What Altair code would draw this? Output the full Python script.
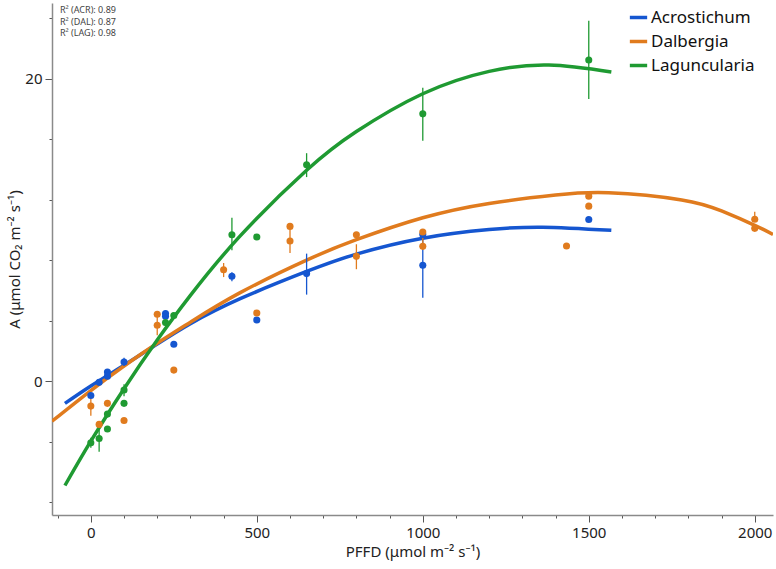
import altair as alt
import pandas as pd

FONT = "Noto Sans"

species = ["Acrostichum", "Dalbergia", "Laguncularia"]
codes = ["ACR", "DAL", "LAG"]
r2 = [0.89, 0.87, 0.98]
colors = ["#1556D0", "#E07B1E", "#1F9A32"]

# Net assimilation measured at each light level
acr_x = [0, 25, 50, 50, 100, 225, 225, 250, 425, 500, 650, 1000, 1000, 1500]
acr_y = [-0.95, -0.08, 0.61, 0.33, 1.27, 4.47, 4.29, 2.44, 6.93, 4.04, 7.11, 9.7, 7.66, 10.69]
dal_x = [0, 25, 50, 100, 200, 200, 250, 400, 500, 600, 600, 800, 800, 1000, 1000, 1433, 1500, 1500, 2000, 2000]
dal_y = [-1.65, -2.86, -1.47, -2.6, 4.42, 3.7, 0.73, 7.37, 4.5, 10.23, 9.26, 9.68, 8.25, 9.86, 8.91, 8.93, 12.23, 11.57, 10.7, 10.1]
lag_x = [0, 25, 50, 50, 100, 100, 225, 250, 425, 500, 650, 1000, 1500]
lag_y = [-4.07, -3.79, -2.18, -3.17, -0.59, -1.47, 3.87, 4.34, 9.68, 9.53, 14.3, 17.67, 21.23]

# Error bars: light level, lower and upper bound
acr_err_x = [100, 225, 425, 650, 1000]
acr_err_lo = [1.0, 4.3, 6.6, 5.72, 5.52]
acr_err_hi = [1.55, 4.65, 7.2, 8.43, 9.8]
dal_err_x = [0, 200, 400, 600, 800, 1000, 2000]
dal_err_lo = [-2.29, 3.04, 6.88, 8.47, 7.4, 8.91, 10.7]
dal_err_hi = [-1.0, 4.36, 7.81, 10.05, 9.05, 9.86, 11.2]
lag_err_x = [0, 25, 100, 425, 650, 1000, 1500]
lag_err_lo = [-4.4, -4.67, -1.0, 8.65, 13.49, 15.9, 18.66]
lag_err_hi = [-3.75, -2.9, -0.2, 10.8, 15.07, 19.39, 23.83]

# Fitted light-response curves
acr_fit_x = [-78, 0, 100, 200, 300, 450, 650, 800, 1000, 1200, 1360, 1568]
acr_fit_y = [-1.47, -0.32, 1.05, 2.45, 3.8, 5.45, 7.25, 8.4, 9.45, 10.02, 10.18, 9.97]
dal_fit_x = [-117, 0, 100, 200, 300, 450, 650, 800, 1000, 1200, 1400, 1560, 1780, 1900, 2000, 2055]
dal_fit_y = [-2.65, -0.62, 1.0, 2.5, 3.9, 5.85, 8.0, 9.35, 10.8, 11.75, 12.3, 12.45, 11.98, 11.25, 10.3, 9.7]
lag_fit_x = [-78, 0, 100, 200, 300, 450, 650, 800, 1000, 1200, 1380, 1568]
lag_fit_y = [-6.9, -3.97, -0.5, 2.72, 5.67, 9.6, 13.94, 16.5, 19.0, 20.48, 20.9, 20.44]


def long(name, xs, ys):
    return pd.DataFrame({"species": name, "x": xs, "y": ys})


points = pd.concat([long(species[0], acr_x, acr_y),
                    long(species[1], dal_x, dal_y),
                    long(species[2], lag_x, lag_y)])
fits = pd.concat([long(species[0], acr_fit_x, acr_fit_y),
                  long(species[1], dal_fit_x, dal_fit_y),
                  long(species[2], lag_fit_x, lag_fit_y)])
errs = pd.concat([
    pd.DataFrame({"species": species[0], "x": acr_err_x, "lo": acr_err_lo, "hi": acr_err_hi}),
    pd.DataFrame({"species": species[1], "x": dal_err_x, "lo": dal_err_lo, "hi": dal_err_hi}),
    pd.DataFrame({"species": species[2], "x": lag_err_x, "lo": lag_err_lo, "hi": lag_err_hi}),
])

r2_text = "\n".join(f"R\u00b2 ({c}): {v:.2f}" for c, v in zip(codes, r2))

xscale = alt.Scale(domain=[-117, 2055], nice=False, zero=False)
yscale = alt.Scale(domain=[-8.85, 25], nice=False, zero=False)
cscale = alt.Scale(domain=species, range=colors)

xaxis = alt.Axis(
    values=list(range(-100, 2001, 100)), format="d",
    labelExpr="datum.value % 500 === 0 ? datum.label : ''",
    tickSize={"condition": {"test": "datum.value % 500 === 0", "value": 7}, "value": 3},
    grid=False, labelFontSize=15, titleFontSize=15, labelPadding=3,
    titlePadding=4,
)
yaxis = alt.Axis(
    values=list(range(-8, 25, 2)), format="d",
    labelExpr="datum.value % 10 === 0 ? datum.label : ''",
    tickSize={"condition": {"test": "datum.value % 10 === 0", "value": 7}, "value": 3},
    grid=False, labelFontSize=15, titleFontSize=15, labelPadding=3,
    titleX=-30,
)

X = alt.X("x:Q", scale=xscale, axis=xaxis, title="PFFD (\u03bcmol m\u207b\u00b2 s\u207b\u00b9)")
Y = alt.Y("y:Q", scale=yscale, axis=yaxis, title="A (\u03bcmol CO\u2082 m\u207b\u00b2 s\u207b\u00b9)")

legend = alt.Legend(
    title=None, orient="none", legendX=576, legendY=4,
    symbolType="stroke", symbolStrokeWidth=3.5, symbolSize=300,
    labelFontSize=17, labelFont=FONT, labelColor="#111",
    rowPadding=5, labelOffset=2,
)

lines = alt.Chart(fits).mark_line(strokeWidth=3.5, interpolate="natural", clip=True).encode(
    x=X, y=Y,
    color=alt.Color("species:N", scale=cscale, legend=legend),
    detail="species:N",
)

bars = alt.Chart(errs).mark_rule(strokeWidth=1.3).encode(
    x=X, y=alt.Y("lo:Q", scale=yscale), y2="hi:Q",
    color=alt.Color("species:N", scale=cscale, legend=legend),
)

dots = alt.Chart(points).mark_circle(size=50, opacity=1).encode(
    x=X, y=Y,
    color=alt.Color("species:N", scale=cscale, legend=legend),
)

note = alt.Chart(pd.DataFrame({"t": [r2_text]})).mark_text(
    align="left", baseline="top", fontSize=9, color="#444", lineBreak="\n",
    lineHeight=11.5, font=FONT,
).encode(x=alt.value(8), y=alt.value(3), text="t:N")

chart = alt.layer(lines, bars, dots, note).properties(
    width=721, height=512,
    padding={"left": 52, "top": 3, "right": 3, "bottom": 54},
    autosize=alt.AutoSizeParams(type="none"),
).configure_view(stroke=None).configure_axis(
    labelFont=FONT, titleFont=FONT, titleFontWeight="normal",
    labelColor="#222", titleColor="#222",
    domainColor="#8a8a8a", domainWidth=1.5, tickColor="#555", tickWidth=1,
)

chart.save("out.html", embed_options={"renderer": "svg", "actions": False})
